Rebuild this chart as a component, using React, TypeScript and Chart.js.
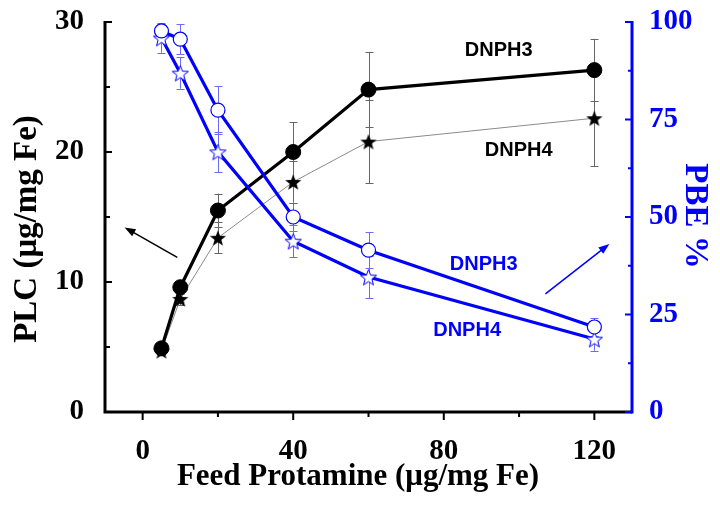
import React, { useEffect, useRef } from 'react';
import { Chart, registerables } from 'chart.js';
Chart.register(...registerables);

// ---- data ----
const feed = [5, 10, 20, 40, 60, 120];
const plcDNPH3 = [4.9, 9.6, 15.5, 20.0, 24.8, 26.3];
const plcDNPH3Err = [0.3, 0.5, 1.3, 2.3, 2.9, 2.4];
const plcDNPH4 = [4.7, 8.7, 13.4, 17.7, 20.8, 22.6];
const plcDNPH4Err = [0.3, 0.5, 1.2, 1.6, 3.2, 3.7];
const pbeDNPH3 = [97.7, 95.6, 77.4, 50.0, 41.5, 21.8];
const pbeDNPH3Err = [1.8, 3.9, 6.2, 3.5, 4.6, 2.3];
const pbeDNPH4 = [95.9, 86.9, 66.7, 43.8, 34.6, 18.7];
const pbeDNPH4Err = [3.8, 4.0, 5.2, 4.1, 5.4, 3.0];

const xTicks = [0, 40, 80, 120];
const xMinor = [20, 60, 100];
const yLTicks = [0, 10, 20, 30];
const yLMinor = [5, 15, 25];
const yRTicks = [0, 25, 50, 75, 100];
const yRMinor = [12.5, 37.5, 62.5, 87.5];

const noteTexts = ['DNPH3', 'DNPH4', 'DNPH3', 'DNPH4'];
const noteX = [94.6, 99.9, 90.6, 86.2];
const noteY = [27.8, 20.1, 37.7, 20.8];
const noteAxis = ['yL', 'yL', 'yR', 'yR'];

const arrowFromX = [9.2, 107];
const arrowFromY = [11.9, 30.3];
const arrowToX = [-4.8, 124];
const arrowToY = [14.2, 43.1];
const arrowAxis = ['yL', 'yR'];

const BLUE = '#0000ff';
const SERIF = '"Liberation Serif", "Times New Roman", serif';
const SANS = '"Liberation Sans", Arial, sans-serif';

function makeStar(size: number, fill: string, stroke: string | null, lw: number) {
  const c = document.createElement('canvas');
  c.width = size;
  c.height = size;
  const g = c.getContext('2d')!;
  const cx = size / 2;
  const cy = size / 2 + size * 0.05;
  const R = size / 2 - lw;
  const r = R * 0.42;
  g.beginPath();
  for (let i = 0; i < 10; i++) {
    const a = -Math.PI / 2 + (i * Math.PI) / 5;
    const rad = i % 2 === 0 ? R : r;
    g.lineTo(cx + rad * Math.cos(a), cy + rad * Math.sin(a));
  }
  g.closePath();
  g.fillStyle = fill;
  g.fill();
  if (stroke) {
    g.strokeStyle = stroke;
    g.lineWidth = lw;
    g.stroke();
  }
  return c;
}

const errorBarPlugin = {
  id: 'errorBars',
  beforeDatasetsDraw(chart: any) {
    const ctx = chart.ctx;
    chart.data.datasets.forEach((ds: any, i: number) => {
      if (!ds.errors) return;
      const meta = chart.getDatasetMeta(i);
      const ys = chart.scales[ds.yAxisID];
      ctx.save();
      ctx.strokeStyle = ds.errorColor;
      ctx.lineWidth = 1;
      meta.data.forEach((pt: any, j: number) => {
        const v = ds.data[j].y;
        const e = ds.errors[j];
        const x = Math.round(pt.x) + 0.5;
        const yt = ys.getPixelForValue(v + e);
        const yb = ys.getPixelForValue(v - e);
        ctx.beginPath();
        ctx.moveTo(x, yt);
        ctx.lineTo(x, yb);
        ctx.moveTo(x - 4, Math.round(yt) + 0.5);
        ctx.lineTo(x + 4, Math.round(yt) + 0.5);
        ctx.moveTo(x - 4, Math.round(yb) + 0.5);
        ctx.lineTo(x + 4, Math.round(yb) + 0.5);
        ctx.stroke();
      });
      ctx.restore();
    });
  },
};

const decorPlugin = {
  id: 'decor',
  afterDraw(chart: any) {
    const ctx = chart.ctx;
    const a = chart.chartArea;
    const xs = chart.scales.x;
    const yL = chart.scales.yL;
    const yR = chart.scales.yR;
    ctx.save();
    // axis lines
    ctx.lineWidth = 3;
    ctx.strokeStyle = '#000';
    ctx.beginPath();
    ctx.moveTo(a.left, a.top - 1);
    ctx.lineTo(a.left, a.bottom);
    ctx.lineTo(a.right, a.bottom);
    ctx.stroke();
    ctx.strokeStyle = BLUE;
    ctx.beginPath();
    ctx.moveTo(a.right, a.top - 1);
    ctx.lineTo(a.right, a.bottom + 1.5);
    ctx.stroke();
    // ticks
    ctx.lineWidth = 2;
    ctx.strokeStyle = '#000';
    ctx.beginPath();
    xTicks.forEach((v) => {
      const p = xs.getPixelForValue(v);
      ctx.moveTo(p, a.bottom);
      ctx.lineTo(p, a.bottom + 8);
    });
    xMinor.forEach((v) => {
      const p = xs.getPixelForValue(v);
      ctx.moveTo(p, a.bottom);
      ctx.lineTo(p, a.bottom + 5);
    });
    yLTicks.forEach((v) => {
      const p = yL.getPixelForValue(v);
      ctx.moveTo(a.left, p);
      ctx.lineTo(a.left + 7, p);
    });
    yLMinor.forEach((v) => {
      const p = yL.getPixelForValue(v);
      ctx.moveTo(a.left, p);
      ctx.lineTo(a.left + 5, p);
    });
    ctx.stroke();
    ctx.strokeStyle = BLUE;
    ctx.beginPath();
    yRTicks.forEach((v) => {
      const p = yR.getPixelForValue(v);
      ctx.moveTo(a.right, p);
      ctx.lineTo(a.right - 7, p);
    });
    yRMinor.forEach((v) => {
      const p = yR.getPixelForValue(v);
      ctx.moveTo(a.right, p);
      ctx.lineTo(a.right - 4, p);
    });
    ctx.stroke();

    // notes
    ctx.font = 'bold 20px ' + SANS;
    ctx.textAlign = 'center';
    ctx.textBaseline = 'middle';
    noteTexts.forEach((t, i) => {
      const ys = noteAxis[i] === 'yL' ? yL : yR;
      ctx.fillStyle = noteAxis[i] === 'yL' ? '#000' : BLUE;
      ctx.fillText(t, xs.getPixelForValue(noteX[i]), ys.getPixelForValue(noteY[i]));
    });
    // arrows
    arrowFromX.forEach((_, i) => {
      const ys = arrowAxis[i] === 'yL' ? yL : yR;
      const col = arrowAxis[i] === 'yL' ? '#000' : BLUE;
      const x1 = xs.getPixelForValue(arrowFromX[i]);
      const y1 = ys.getPixelForValue(arrowFromY[i]);
      const x2 = xs.getPixelForValue(arrowToX[i]);
      const y2 = ys.getPixelForValue(arrowToY[i]);
      const ang = Math.atan2(y2 - y1, x2 - x1);
      ctx.strokeStyle = col;
      ctx.fillStyle = col;
      ctx.lineWidth = 1.5;
      ctx.beginPath();
      ctx.moveTo(x1, y1);
      ctx.lineTo(x2 - 6 * Math.cos(ang), y2 - 6 * Math.sin(ang));
      ctx.stroke();
      ctx.beginPath();
      ctx.moveTo(x2, y2);
      ctx.lineTo(x2 - 11 * Math.cos(ang) + 4 * Math.sin(ang), y2 - 11 * Math.sin(ang) - 4 * Math.cos(ang));
      ctx.lineTo(x2 - 11 * Math.cos(ang) - 4 * Math.sin(ang), y2 - 11 * Math.sin(ang) + 4 * Math.cos(ang));
      ctx.closePath();
      ctx.fill();
    });

    // axis titles
    ctx.fillStyle = '#000';
    ctx.font = 'bold 31px ' + SERIF;
    ctx.fillText('Feed Protamine (\u03bcg/mg Fe)', 358, 477);
    ctx.save();
    ctx.font = 'bold 33px ' + SERIF;
    ctx.translate(27, 229);
    ctx.rotate(-Math.PI / 2);
    ctx.fillText('PLC (\u03bcg/mg Fe)', 0, 0);
    ctx.restore();
    ctx.save();
    ctx.font = 'bold 33px ' + SERIF;
    ctx.fillStyle = BLUE;
    ctx.translate(695, 216);
    ctx.rotate(Math.PI / 2);
    ctx.fillText('PBE %', 0, 0);
    ctx.restore();
    ctx.restore();
  },
};

const pts = (ys: number[]) => feed.map((x, i) => ({ x, y: ys[i] }));

export default function App() {
  const ref = useRef<HTMLCanvasElement>(null);
  useEffect(() => {
    const blackStar = makeStar(18, '#000', null, 0.5);
    const openStar = makeStar(19, '#fff', BLUE, 1);
    const tickFont = { family: SERIF, size: 29, weight: 'bold' as const };
    const chart = new Chart(ref.current!, {
      type: 'line',
      data: {
        datasets: [
          {
            label: 'PBE DNPH3',
            data: pts(pbeDNPH3),
            yAxisID: 'yR',
            borderColor: BLUE,
            borderWidth: 3.2,
            pointStyle: 'circle',
            pointRadius: 7,
            pointBackgroundColor: '#fff',
            pointBorderColor: BLUE,
            pointBorderWidth: 1.2,
            errors: pbeDNPH3Err,
            errorColor: '#6a6aff',
            order: 0,
          } as any,
          {
            label: 'PBE DNPH4',
            data: pts(pbeDNPH4),
            yAxisID: 'yR',
            borderColor: BLUE,
            borderWidth: 3.2,
            pointStyle: openStar,
            errors: pbeDNPH4Err,
            errorColor: '#6a6aff',
            order: 1,
          } as any,
          {
            label: 'PLC DNPH3',
            data: pts(plcDNPH3),
            yAxisID: 'yL',
            borderColor: '#000',
            borderWidth: 3.2,
            pointStyle: 'circle',
            pointRadius: 7.5,
            pointBackgroundColor: '#000',
            pointBorderColor: '#000',
            pointBorderWidth: 1,
            errors: plcDNPH3Err,
            errorColor: '#666',
            order: 2,
          } as any,
          {
            label: 'PLC DNPH4',
            data: pts(plcDNPH4),
            yAxisID: 'yL',
            borderColor: '#8a8a8a',
            borderWidth: 1,
            pointStyle: blackStar,
            errors: plcDNPH4Err,
            errorColor: '#666',
            order: 3,
          } as any,
        ],
      },
      options: {
        responsive: false,
        devicePixelRatio: 1,
        animation: false,
        layout: { padding: { top: 22, left: 0, right: 0, bottom: 0 } },
        plugins: { legend: { display: false }, tooltip: { enabled: false } },
        scales: {
          x: {
            type: 'linear',
            min: -10,
            max: 130,
            grid: { display: false },
            border: { display: false },
            afterBuildTicks: (s: any) => {
              s.ticks = xTicks.map((v) => ({ value: v }));
            },
            afterFit: (s: any) => {
              s.height = 95;
              s.paddingLeft = 0;
              s.paddingRight = 0;
            },
            ticks: { color: '#000', font: tickFont, padding: 14, maxRotation: 0 },
          },
          yL: {
            type: 'linear',
            position: 'left',
            min: 0,
            max: 30,
            grid: { display: false },
            border: { display: false },
            afterBuildTicks: (s: any) => {
              s.ticks = yLTicks.map((v) => ({ value: v }));
            },
            afterFit: (s: any) => {
              s.width = 105;
              s.paddingTop = 0;
              s.paddingBottom = 0;
            },
            ticks: { color: '#000', font: tickFont, padding: 13 },
          },
          yR: {
            type: 'linear',
            position: 'right',
            min: 0,
            max: 100,
            grid: { display: false },
            border: { display: false },
            afterBuildTicks: (s: any) => {
              s.ticks = yRTicks.map((v) => ({ value: v }));
            },
            afterFit: (s: any) => {
              s.width = 88;
              s.paddingTop = 0;
              s.paddingBottom = 0;
            },
            ticks: { color: BLUE, font: tickFont, padding: 9 },
          },
        },
      },
      plugins: [errorBarPlugin, decorPlugin],
    });
    return () => chart.destroy();
  }, []);
  return (
    <div style={{ position: 'absolute', left: 0, top: 0, width: 720, height: 507, background: '#fff' }}>
      <canvas ref={ref} width={720} height={507} />
    </div>
  );
}
